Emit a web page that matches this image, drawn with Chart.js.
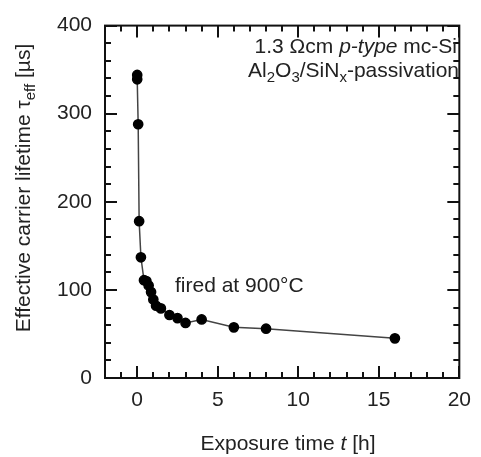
<!DOCTYPE html>
<html>
<head>
<meta charset="utf-8">
<script src="https://cdn.jsdelivr.net/npm/chart.js@4.4.1/dist/chart.umd.min.js"></script>
<style>
html,body{margin:0;padding:0;background:#fff;}
#wrap{width:481px;height:457px;}
</style>
</head>
<body>
<div id="wrap"><canvas id="c" width="481" height="457"></canvas></div>
<script>
// Data
const exposureTime = [0, 0, 0.06, 0.12, 0.23, 0.42, 0.57, 0.71, 0.86, 1.0, 1.17, 1.47, 2.0, 2.5, 3.0, 4.0, 6.0, 8.0, 16.0];
const lifetime     = [344, 339, 288, 178, 137, 111, 110, 105, 97.5, 89, 82, 79, 71.5, 68, 62.5, 66.5, 57.5, 56, 45];
const xMajorTicks = [0, 5, 10, 15, 20];
const yMajorTicks = [0, 100, 200, 300, 400];
const xRange = [-2, 20];
const yRange = [0, 400];
const xMinorStep = 1;
const yMinorStep = 20;

const FONT = '"Liberation Sans", Arial, sans-serif';
const points = exposureTime.map((t, i) => ({x: t, y: lifetime[i]}));

function drawRuns(ctx, runs, x, y, align) {
  let total = 0;
  runs.forEach(r => { ctx.font = r.font; r.w = ctx.measureText(r.t).width; total += r.w; });
  let cx = align === 'right' ? x - total : (align === 'center' ? x - total / 2 : x);
  ctx.textBaseline = 'alphabetic';
  ctx.textAlign = 'left';
  runs.forEach(r => { ctx.font = r.font; ctx.fillText(r.t, cx, y + (r.dy || 0)); cx += r.w; });
}

const decor = {
  id: 'decor',
  afterDraw(chart) {
    const ctx = chart.ctx;
    const a = chart.chartArea;
    const xs = chart.scales.x, ys = chart.scales.y;
    ctx.save();
    ctx.strokeStyle = '#111';
    ctx.lineWidth = 2;
    ctx.strokeRect(a.left, a.top, a.right - a.left, a.bottom - a.top);
    ctx.lineWidth = 2;
    ctx.beginPath();
    for (let v = xRange[0]; v <= xRange[1] + 1e-9; v += xMinorStep) {
      const px = Math.round(xs.getPixelForValue(v));
      const len = xMajorTicks.includes(v) ? 12 : 6;
      ctx.moveTo(px, a.bottom); ctx.lineTo(px, a.bottom - len);
      ctx.moveTo(px, a.top); ctx.lineTo(px, a.top + len);
    }
    for (let v = yRange[0]; v <= yRange[1] + 1e-9; v += yMinorStep) {
      const py = Math.round(ys.getPixelForValue(v));
      const len = yMajorTicks.includes(v) ? 12 : 6;
      ctx.moveTo(a.left, py); ctx.lineTo(a.left + len, py);
      ctx.moveTo(a.right, py); ctx.lineTo(a.right - len, py);
    }
    ctx.stroke();

    ctx.fillStyle = '#222';
    const f = '21px ' + FONT, fi = 'italic 21px ' + FONT, fs = '15px ' + FONT;
    // annotation
    drawRuns(ctx, [{t: '1.3 \u03A9cm ', font: f}, {t: 'p-type', font: fi}, {t: ' mc-Si', font: f}], 457, 53, 'right');
    drawRuns(ctx, [{t: 'Al', font: f}, {t: '2', font: fs, dy: 5}, {t: 'O', font: f}, {t: '3', font: fs, dy: 5},
                   {t: '/SiN', font: f}, {t: 'x', font: fs, dy: 5}, {t: '-passivation', font: f}], 459, 77, 'right');
    drawRuns(ctx, [{t: 'fired at 900\u00B0C', font: f}], 175, 292, 'left');
    // x title
    drawRuns(ctx, [{t: 'Exposure time ', font: f}, {t: 't', font: fi}, {t: ' [h]', font: f}], 288, 450, 'center');
    // y title
    ctx.translate(30, 188);
    ctx.rotate(-Math.PI / 2);
    drawRuns(ctx, [{t: 'Effective carrier lifetime \u03C4', font: f}, {t: 'eff', font: fs, dy: 5}, {t: ' [\u00B5s]', font: f}], 0, 0, 'center');
    ctx.restore();
  }
};

new Chart(document.getElementById('c'), {
  type: 'scatter',
  data: {
    datasets: [{
      data: points,
      showLine: true,
      borderColor: '#444',
      borderWidth: 1.5,
      backgroundColor: '#000',
      pointBackgroundColor: '#000',
      pointBorderColor: '#000',
      pointRadius: 4.6,
      pointHoverRadius: 4.6,
      tension: 0
    }]
  },
  options: {
    responsive: false,
    animation: false,
    events: [],
    layout: {padding: {left: 0, right: 15, top: 17, bottom: 0}},
    plugins: {legend: {display: false}, tooltip: {enabled: false}},
    scales: {
      x: {
        type: 'linear', min: xRange[0], max: xRange[1],
        grid: {display: false, drawTicks: false},
        border: {display: false},
        afterBuildTicks: s => { s.ticks = xMajorTicks.map(v => ({value: v})); },
        afterFit: s => { s.height = 79; },
        ticks: {color: '#222', font: {family: FONT, size: 21}, padding: 10, maxRotation: 0, autoSkip: false}
      },
      y: {
        type: 'linear', min: yRange[0], max: yRange[1],
        grid: {display: false, drawTicks: false},
        border: {display: false},
        afterBuildTicks: s => { s.ticks = yMajorTicks.map(v => ({value: v})); },
        afterFit: s => { s.width = 105; },
        ticks: {color: '#222', font: {family: FONT, size: 21}, padding: 13, autoSkip: false}
      }
    }
  },
  plugins: [decor]
});
</script>
</body>
</html>
